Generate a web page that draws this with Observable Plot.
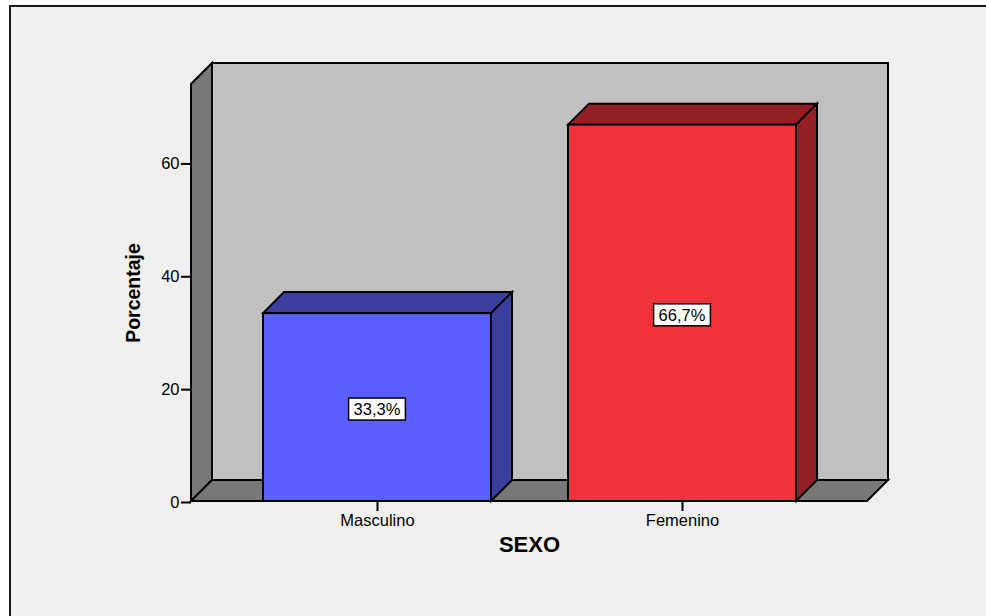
<!DOCTYPE html>
<html><head><meta charset="utf-8">
<script src="https://cdn.jsdelivr.net/npm/d3@7"></script>
<script src="https://cdn.jsdelivr.net/npm/@observablehq/plot@0.6"></script>
<style>
html,body{margin:0;padding:0;background:#fff;width:986px;height:616px;overflow:hidden;}
#wrap{position:relative;width:986px;height:616px;}
#panel{position:absolute;left:9px;top:5px;width:990px;height:620px;border:2px solid #1a1a1a;background:#f0f0f0;box-sizing:border-box;}
#chart{position:absolute;left:0;top:0;}
</style></head><body>
<div id="wrap"><div id="panel"></div><div id="chart"></div></div>
<script>
// ---- data ----
const categories = ["Masculino", "Femenino"];
const percentages = [33.3, 66.7];
const valueLabels = ["33,3%", "66,7%"];
const yTicks = [0, 20, 40, 60];
const yDomain = [0, 73.9];
const xTitle = "SEXO";
const yTitle = "Porcentaje";
const frontColors = ["#5b5fff", "#f0323a"];
const shadeColors = ["#3a3e9c", "#931e24"];

const data = categories.map((c, i) => ({sexo: c, pct: percentages[i], label: valueLabels[i], front: frontColors[i], shade: shadeColors[i]}));

// ---- style ----
const D = 21; // 3D depth in px
const FONT = "'Liberation Sans', Arial, sans-serif";
const NS = "http://www.w3.org/2000/svg";

function poly(points, fill) {
  const p = document.createElementNS(NS, "polygon");
  p.setAttribute("points", points.map(d => d.join(",")).join(" "));
  p.setAttribute("fill", fill);
  p.setAttribute("stroke", "#000");
  p.setAttribute("stroke-width", 2);
  p.setAttribute("stroke-linejoin", "miter");
  return p;
}
function bw(scales) {
  const x = scales.x;
  return x.bandwidth ? x.bandwidth() : scales.scales.x.bandwidth;
}

function walls(index, scales) {
  const g = document.createElementNS(NS, "g");
  const [xl, xr] = scales.x.range();
  const y0 = scales.y(yDomain[0]), yt = scales.y(yDomain[1]);
  g.append(poly([[xl + D, yt - D], [xr + D, yt - D], [xr + D, y0 - D], [xl + D, y0 - D]], "#c0c0c0"));
  g.append(poly([[xl, y0], [xl, yt], [xl + D, yt - D], [xl + D, y0 - D]], "#787878"));
  g.append(poly([[xl, y0], [xr, y0], [xr + D, y0 - D], [xl + D, y0 - D]], "#787878"));
  return g;
}

function barSides(index, scales) {
  const g = document.createElementNS(NS, "g");
  const w = bw(scales);
  const y0 = scales.y(0);
  for (const d of data) {
    const x0 = scales.x(d.sexo), x1 = x0 + w, yv = scales.y(d.pct);
    g.append(poly([[x0, yv], [x0 + D, yv - D], [x1 + D, yv - D], [x1, yv]], d.shade));
    g.append(poly([[x1, yv], [x1 + D, yv - D], [x1 + D, y0 - D], [x1, y0]], d.shade));
  }
  return g;
}

const LABEL_SIZE = 16.5;
const ctx = document.createElement("canvas").getContext("2d");
function labelBoxes(index, scales) {
  const g = document.createElementNS(NS, "g");
  const w = bw(scales);
  ctx.font = LABEL_SIZE + "px " + FONT;
  for (const d of data) {
    const cx = scales.x(d.sexo) + w / 2;
    const cy = scales.y(d.pct / 2) + 2;
    const tw = ctx.measureText(d.label).width;
    const r = document.createElementNS(NS, "rect");
    r.setAttribute("x", cx - tw / 2 - 5);
    r.setAttribute("y", cy - 11);
    r.setAttribute("width", tw + 10);
    r.setAttribute("height", 22);
    r.setAttribute("fill", "#fff");
    r.setAttribute("stroke", "#000");
    r.setAttribute("stroke-width", 1.5);
    g.append(r);
    const t = document.createElementNS(NS, "text");
    t.setAttribute("x", cx);
    t.setAttribute("y", cy);
    t.setAttribute("dy", "0.36em");
    t.setAttribute("text-anchor", "middle");
    t.setAttribute("font-size", LABEL_SIZE);
    t.setAttribute("fill", "#000");
    t.textContent = d.label;
    g.append(t);
  }
  return g;
}

const chart = Plot.plot({
  width: 986,
  height: 616,
  marginLeft: 191,
  marginRight: 119,
  marginTop: 84,
  marginBottom: 115,
  style: {background: "transparent", fontFamily: FONT, fontSize: "16.5px", color: "#000", overflow: "visible"},
  x: {domain: categories, paddingInner: 0.2525, paddingOuter: 0.2344},
  y: {domain: yDomain},
  color: {type: "identity"},
  marks: [
    walls,
    barSides,
    Plot.barY(data, {x: "sexo", y: "pct", fill: "front", stroke: "#000", strokeWidth: 2}),
    labelBoxes,
    Plot.axisY({ticks: yTicks, tickSize: 10, tickPadding: 2, label: null, strokeWidth: 2, fontSize: 16.5, dy: 1}),
    Plot.axisX({tickSize: 10, tickPadding: 3, label: null, strokeWidth: 2, fontSize: 16.5}),
    Plot.text([yTitle], {text: d => d, frameAnchor: "left", textAnchor: "middle", dx: -58, rotate: -90, fontSize: 19.5, fontWeight: "bold", fill: "#000"}),
    Plot.text([xTitle], {text: d => d, frameAnchor: "bottom", textAnchor: "middle", dy: 50, fontSize: 22, fontWeight: "bold", fill: "#000"})
  ]
});
document.getElementById("chart").append(chart);
</script>
</body></html>
